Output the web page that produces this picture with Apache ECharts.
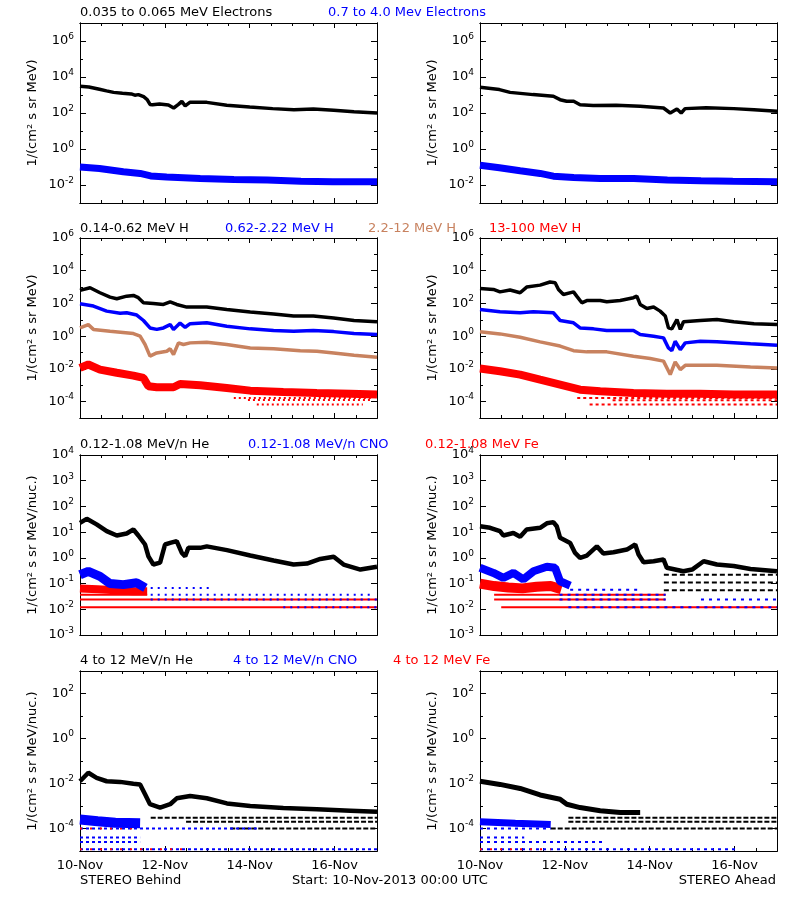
<!DOCTYPE html>
<html><head><meta charset="utf-8">
<script src="https://cdn.jsdelivr.net/npm/echarts@6/dist/echarts.min.js"></script>
<style>html,body{margin:0;padding:0;background:#fff}#c{width:800px;height:900px}</style>
</head><body><div id="c"></div><script>
// ---------- DATA: [hours since 10-Nov-2013 00:00 UTC, flux] ----------
const dayLabels = ['10-Nov', '12-Nov', '14-Nov', '16-Nov'];

// Row 1 : electrons
const eLowBehind = [[0,3100],[5,2800],[11,2100],[15,1700],[19,1400],[24,1250],[29,1150],[31,980],[33,1050],[36,800],[38,560],[39.6,300],[41,285],[45,320],[50,280],[53,190],[55.7,300],[57.6,440],[59.5,250],[62.3,400],[71.7,390],[83,270],[96,215],[109,175],[121,150],[132,165],[143.5,140],[155,118],[168,100]];
const eHighBehind = [[0,0.10],[11,0.083],[24.5,0.054],[34,0.044],[40,0.032],[49,0.028],[68,0.023],[87,0.020],[106,0.019],[125,0.016],[143,0.015],[168,0.015]];
const eLowAhead = [[0,2700],[11,2000],[17,1400],[30,1050],[41.5,850],[45.3,550],[49,450],[53,450],[56.6,290],[64,260],[77,270],[90.6,235],[103.8,190],[107.6,100],[111.4,165],[113.8,100],[116,175],[128,195],[143.5,175],[155,150],[168,125]];
const eHighAhead = [[0,0.126],[11,0.091],[22.7,0.062],[34,0.044],[41.5,0.031],[53,0.026],[68,0.023],[87,0.023],[106,0.019],[125,0.017],[143,0.016],[168,0.015]];

// Row 2 : protons
const hABehind = [[0,630],[5.7,910],[11.3,450],[17,245],[20.8,195],[26.4,280],[30.2,310],[33,225],[35.9,110],[41.5,100],[47.2,87],[51,126],[54.7,87],[60.4,60],[71.7,60],[83,43],[96.3,30],[109.5,23],[120.8,17],[132,17],[143.5,13],[155,9.1],[168,7.6]];
const hBBehind = [[0,95],[7.6,69],[15.1,34],[22.7,25],[26.4,27],[32.1,19.5],[35.9,9.1],[39.6,3.2],[43.4,2.6],[47.2,3.2],[51,5.1],[52.9,2.6],[56.6,6.3],[59.5,3.5],[62.3,5.8],[71.7,6.6],[83,4.1],[96.3,2.8],[109.5,2.2],[120.8,2.0],[132,2.2],[143.5,1.9],[155,1.45],[168,1.26]];
const hCBehind = [[0,3.2],[4.7,5.1],[7.6,2.6],[17,2.0],[30.2,1.45],[34,1.0],[36.8,0.31],[39.6,0.060],[43.4,0.095],[49.1,0.12],[51,0.17],[52.9,0.076],[55.7,0.39],[58.5,0.31],[62.3,0.39],[71.7,0.43],[83,0.31],[96.3,0.19],[109.5,0.17],[124.6,0.13],[134,0.12],[143.5,0.095],[155,0.069],[168,0.051]];
const hDBehind = [[0,0.0115],[4.7,0.0186],[11.3,0.0091],[20.8,0.0058],[30.2,0.0039],[35.9,0.0028],[38.7,0.00087],[43.4,0.00076],[52.9,0.00076],[56.6,0.0012],[68,0.001],[83,0.00069],[96.3,0.00047],[115,0.00039],[134,0.00034],[153,0.0003],[168,0.00027]];
const hAAhead = [[0,830],[7.6,720],[11.3,510],[17,660],[22.7,450],[26.4,1000],[34,1320],[39.6,2040],[42.5,1860],[44.4,720],[47.2,355],[52.9,510],[54.7,280],[57.6,110],[60.4,150],[68,150],[71.7,126],[79.3,150],[86.8,225],[88.7,280],[90.6,87],[94.4,49],[98.2,60],[101.9,34],[104.8,17],[106.6,3.2],[108.5,2.8],[111.4,10.5],[113.3,2.6],[115.1,7.6],[124.6,9.1],[134,10.5],[143.5,7.6],[155,5.8],[168,5.1]];
const hBAhead = [[0,43],[11.3,31],[22.7,27],[30.2,31],[41.5,27],[45.3,9.1],[52.9,6.6],[56.6,3.2],[64.2,2.8],[71.7,2.2],[86.8,2.2],[90.6,1.26],[98.2,1.0],[103.8,0.79],[106.6,0.19],[108.5,0.13],[110.4,0.49],[113.3,0.15],[116.1,0.39],[124.6,0.49],[134,0.45],[153,0.34],[168,0.28]];
const hCAhead = [[0,1.86],[11.3,1.38],[22.7,0.87],[34,0.45],[45.3,0.25],[52.9,0.13],[60.4,0.11],[71.7,0.11],[86.8,0.060],[96.3,0.043],[103.8,0.030],[107.6,0.0045],[110.4,0.027],[113.3,0.0091],[116.1,0.0166],[134,0.0166],[153,0.0132],[168,0.0115]];
const hDAhead = [[0,0.0105],[11.3,0.0072],[22.7,0.0045],[34,0.0022],[45.3,0.0011],[56.6,0.00054],[68,0.00043],[86.8,0.00034],[105.7,0.0003],[124.6,0.0003],[143.5,0.00027],[168,0.00027]];
// quantised count levels [startHour, endHour, flux]
const hDLevBehind = [[87,165,1.66e-4],[95,165,1.26e-4],[100,160,6.6e-5]];
const hDLevAhead = [[55,168,1.66e-4],[75,168,1.2e-4],[62,168,6.6e-5]];

// Row 3 : 0.12-1.08 MeV/n ions
const heLBehind = [[0,23],[3.8,33],[9.4,20],[15.1,11],[20.8,7.4],[26.4,8.9],[30.2,12.6],[33,7.4],[36.8,3.3],[38.7,1.15],[41.5,0.55],[45.3,0.65],[48.1,3.3],[51,3.8],[54.7,4.5],[57.6,1.55],[59.5,1.15],[61.3,2.45],[68,2.45],[71.7,2.8],[83.1,2.0],[96.3,1.23],[109.5,0.79],[120.8,0.55],[128.4,0.60],[135.9,0.91],[143.5,1.1],[149.1,0.55],[158.6,0.35],[168,0.45]];
const cnoLBehind = [[0,0.22],[4.7,0.30],[11.3,0.19],[17,0.10],[24.5,0.091],[32.1,0.107],[37,0.068]];
const feLBehind = [[0,0.065],[10,0.06],[20,0.055],[30,0.05],[38,0.05]];
const heLAhead = [[0,17],[5.7,14.8],[11.3,11],[13.2,7.4],[18.9,9.3],[22.7,6.6],[26.4,12.6],[34,14.8],[37.8,22],[41.5,24.5],[43.4,17],[45.3,6.0],[51,3.8],[53.8,1.55],[56.6,1.0],[60.4,1.23],[66.1,2.8],[69.8,1.48],[75.5,1.66],[83.1,2.1],[87.8,3.3],[89.7,1.35],[92.5,0.68],[98.2,0.74],[103.8,0.87],[105.7,0.41],[115,0.30],[120,0.35],[126.5,0.74],[134,0.55],[143.5,0.48],[153,0.37],[168,0.30]];
const cnoLAhead = [[0,0.41],[7.6,0.26],[13.2,0.166],[18.9,0.26],[24.5,0.145],[30.2,0.30],[37.8,0.45],[42.5,0.41],[45.3,0.123],[51,0.083]];
const feLAhead = [[0,0.1],[8,0.08],[16,0.07],[24,0.065],[32,0.075],[40,0.08],[46,0.06]];
const lvl3RedBehind = [[0,38,0.037],[0,168,0.024],[0,168,0.012]];
const lvl3BlueBehind = [[40,165,0.037],[40,168,0.024],[115,168,0.012],[40,75,0.068]];
const lvl3RedAhead = [[8,105,0.037],[8,105,0.024],[12,168,0.012]];
const lvl3BlueAhead = [[45,105,0.037],[45,105,0.024],[125,168,0.024],[50,168,0.012],[51,90,0.058]];
const lvl3BlackAhead = [[104,168,0.22],[104,168,0.11],[104,168,0.055]];

// Row 4 : 4-12 MeV/n ions
const heHBehind = [[0,0.0126],[4.7,0.030],[9.4,0.0178],[15.1,0.0126],[22.7,0.0118],[30.2,0.0098],[34,0.0091],[36.8,0.0033],[39.6,0.0012],[45.3,0.00085],[51,0.0012],[54.7,0.0022],[62.3,0.0028],[71.7,0.0022],[83.1,0.0013],[96.3,0.001],[115,0.00081],[134,0.00072],[153,0.00062],[168,0.00055]];
const cnoHBehind = [[0,2.5e-4],[10,2.1e-4],[20,1.8e-4],[34,1.7e-4]];
const heHAhead = [[0,0.0126],[11.3,0.0091],[22.7,0.006],[34,0.0031],[45.3,0.002],[49.1,0.0012],[56.6,0.00085],[68,0.00062],[79.3,0.00052],[90.6,0.00052]];
const cnoHAhead = [[0,2.0e-4],[20,1.7e-4],[40,1.5e-4]];
const lvl4BlackBehind = [[40,168,3.0e-4],[60,168,2.0e-4],[85,168,1.0e-4]];
const lvl4BlueBehind = [[0,100,1.0e-4],[0,34,4.0e-5],[0,34,2.5e-5],[0,168,1.2e-5]];
const lvl4RedBehind = [[0,30,1.0e-4],[0,60,1.2e-5]];
const lvl4BlackAhead = [[50,168,3.0e-4],[50,168,2.0e-4],[40,168,1.0e-4]];
const lvl4BlueAhead = [[0,40,1.0e-4],[0,25,4.0e-5],[0,70,2.5e-5],[0,145,1.2e-5]];
const lvl4RedAhead = [[0,40,1.2e-5]];

// ---------- STYLE / LAYOUT ----------
const FONT = 'DejaVu Sans';
const BLACK = '#000000', BLUE = '#0000ff', BROWN = '#c8825f', RED = '#ff0000';
const colLeft = [80, 480], plotW = 297;
const rowTop = [23, 238, 455, 671], plotH = 180;
const yRange = [[1e-3, 1e7], [1e-5, 1e6], [1e-3, 1e4], [1e-5, 1e3]];
const labelEvery = [2, 2, 1, 2];
const majorHours = dayLabels.map((_, k) => k * 48);

function segs(list) {
  const d = [];
  list.forEach(s => { d.push([s[0], s[2]], [s[1], s[2]], [s[1], '-']); });
  return d;
}
const L = (data, color, width) => ({data, color, width});
const LV = (list, color, dash, width) => ({data: segs(list), color, width: width || 2, dash});

const panels = [
  [L(eHighBehind, BLUE, 7), L(eLowBehind, BLACK, 3.5)],
  [L(eHighAhead, BLUE, 7), L(eLowAhead, BLACK, 3.5)],
  [LV(hDLevBehind, RED, [2, 3]), L(hDBehind, RED, 8), L(hCBehind, BROWN, 3.5), L(hBBehind, BLUE, 3.5), L(hABehind, BLACK, 3.5)],
  [LV(hDLevAhead, RED, [3, 3]), L(hDAhead, RED, 8), L(hCAhead, BROWN, 3.5), L(hBAhead, BLUE, 3.5), L(hAAhead, BLACK, 3.5)],
  [LV(lvl3RedBehind, RED, 'solid'), LV(lvl3BlueBehind, BLUE, [2, 5]), L(feLBehind, RED, 8), L(cnoLBehind, BLUE, 9), L(heLBehind, BLACK, 4.5)],
  [LV(lvl3RedAhead, RED, 'solid'), LV(lvl3BlueAhead, BLUE, [3, 5]), LV(lvl3BlackAhead, BLACK, [5, 3]), L(feLAhead, RED, 10), L(cnoLAhead, BLUE, 8), L(heLAhead, BLACK, 4.5)],
  [LV(lvl4BlackBehind, BLACK, [5, 2]), LV(lvl4BlueBehind, BLUE, [3, 3]), LV(lvl4RedBehind, RED, [2, 8]), L(cnoHBehind, BLUE, 10), L(heHBehind, BLACK, 4.5)],
  [LV(lvl4BlackAhead, BLACK, [5, 2]), LV(lvl4BlueAhead, BLUE, [3, 4]), LV(lvl4RedAhead, RED, [2, 8]), L(cnoHAhead, BLUE, 7), L(heHAhead, BLACK, 5)]
];

const grid = [], xAxis = [], yAxis = [], series = [];
panels.forEach((list, i) => {
  const r = Math.floor(i / 2), c = i % 2;
  grid.push({left: colLeft[c], top: rowTop[r], width: plotW, height: plotH, show: false});
  const xa = (pos, major, showLab) => ({
    type: 'value', gridIndex: i, position: pos, min: 0, max: 168, interval: major ? 48 : 12,
    axisLine: {show: true, onZero: false, lineStyle: {color: '#000', width: 1}},
    axisTick: {show: true, inside: true, length: major ? 5 : 3, lineStyle: {color: '#000'},
      customValues: major ? majorHours : undefined},
    axisLabel: {show: showLab, margin: 8, color: '#000', fontFamily: FONT, fontSize: 13,
      customValues: majorHours,
      formatter: v => (majorHours.indexOf(v) >= 0 ? dayLabels[majorHours.indexOf(v)] : '')},
    splitLine: {show: false}
  });
  xAxis.push(xa('bottom', true, r === 3), xa('bottom', false, false), xa('top', true, false), xa('top', false, false));
  const e0 = Math.round(Math.log10(yRange[r][0])), e1 = Math.round(Math.log10(yRange[r][1]));
  const majorVals = [];
  for (let e = e0; e <= e1; e++) if (Math.abs(e % labelEvery[r]) === 0) majorVals.push(Math.pow(10, e));
  const ya = (pos, major, showLab) => ({
    type: 'log', logBase: 10, gridIndex: i, position: pos,
    min: yRange[r][0], max: yRange[r][1], interval: 1,
    axisLine: {show: true, onZero: false, lineStyle: {color: '#000', width: 1}},
    axisTick: {show: true, inside: true, length: major ? 6 : 3, lineStyle: {color: '#000'},
      customValues: major ? majorVals : undefined},
    minorTick: {show: false}, splitLine: {show: false},
    axisLabel: {show: showLab, margin: 6,
      formatter: v => {
        const e = Math.round(Math.log10(v));
        if (Math.abs(e % labelEvery[r]) !== 0) return '';
        return '{b|10}{s|' + e + '}';
      },
      rich: {
        b: {fontFamily: FONT, fontSize: 13, color: '#000', lineHeight: 18},
        s: {fontFamily: FONT, fontSize: 9, color: '#000', verticalAlign: 'top', lineHeight: 10}
      }}
  });
  yAxis.push(ya('left', true, true), ya('left', false, false), ya('right', true, false), ya('right', false, false));
  list.forEach((s, k) => {
    series.push({
      type: 'line', xAxisIndex: 4 * i, yAxisIndex: 4 * i, data: s.data,
      symbol: 'none', silent: true, animation: false, connectNulls: false, z: 2 + k,
      lineStyle: {color: s.color, width: s.width, type: s.dash || 'solid', cap: 'butt'}
    });
  });
});

const texts = [
  [80, 13, '0.035 to 0.065 MeV Electrons', BLACK], [328, 13, '0.7 to 4.0 Mev Electrons', BLUE],
  [80, 229, '0.14-0.62 MeV H', BLACK], [225, 229, '0.62-2.22 MeV H', BLUE], [368, 229, '2.2-12 MeV H', BROWN], [489, 229, '13-100 MeV H', RED],
  [80, 445, '0.12-1.08 MeV/n He', BLACK], [248, 445, '0.12-1.08 MeV/n CNO', BLUE], [425, 445, '0.12-1.08 MeV Fe', RED],
  [80, 661, '4 to 12 MeV/n He', BLACK], [233, 661, '4 to 12 MeV/n CNO', BLUE], [393, 661, '4 to 12 MeV Fe', RED],
  [80, 881, 'STEREO Behind', BLACK], [292, 881, 'Start: 10-Nov-2013 00:00 UTC', BLACK]
];
const graphic = texts.map(t => ({type: 'text', x: t[0], y: t[1], silent: true,
  style: {text: t[2], fill: t[3], font: '13px "' + FONT + '"', align: 'left', verticalAlign: 'middle'}}));
graphic.push({type: 'text', x: 776, y: 881, silent: true,
  style: {text: 'STEREO Ahead', fill: BLACK, font: '13px "' + FONT + '"', align: 'right', verticalAlign: 'middle'}});
const yNames = ['1/(cm² s sr MeV)', '1/(cm² s sr MeV)', '1/(cm² s sr MeV/nuc.)', '1/(cm² s sr MeV/nuc.)'];
rowTop.forEach((t, r) => {
  [33, 433].forEach(x => graphic.push({type: 'text', x: x, y: t + plotH / 2, rotation: Math.PI / 2, silent: true,
    style: {text: yNames[r], fill: BLACK, font: '13px "' + FONT + '"', align: 'center', verticalAlign: 'middle'}}));
});

const chart = echarts.init(document.getElementById('c'), null, {renderer: 'canvas'});
chart.setOption({backgroundColor: '#fff', animation: false, grid, xAxis, yAxis, series, graphic});
</script></body></html>
